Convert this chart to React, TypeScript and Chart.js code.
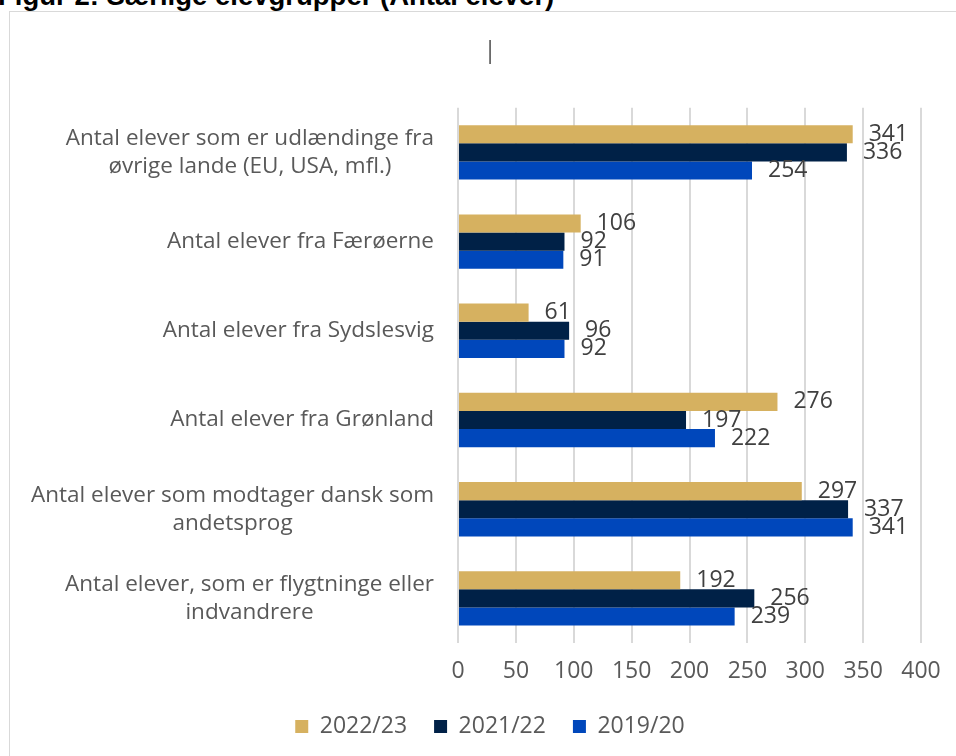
import React, { useEffect, useRef } from "react";
import { Chart, registerables } from "chart.js";

Chart.register(...registerables);

const categories: string[][] = [
  ["Antal elever som er udlændinge fra", "øvrige lande (EU, USA, mfl.)"],
  ["Antal elever fra Færøerne"],
  ["Antal elever fra Sydslesvig"],
  ["Antal elever fra Grønland"],
  ["Antal elever som modtager dansk som", "andetsprog"],
  ["Antal elever, som er flygtninge eller", "indvandrere"],
];
const seriesNames = ["2022/23", "2021/22", "2019/20"];
const values2022 = [341, 106, 61, 276, 297, 192];
const values2021 = [336, 92, 96, 197, 337, 256];
const values2019 = [254, 91, 92, 222, 341, 239];
const xMin = 0;
const xMax = 400;
const xStep = 50;
const figureTitle = "Figur 2: Særlige elevgrupper (Antal elever)";
const chartTitle = "|";

const colors = ["#D6B160", "#002147", "#0047BB"];
const FONT = '"Open Sans", sans-serif';

const yLabelPlugin = {
  id: "yLabelsCentered",
  afterDraw(chart: any) {
    const { ctx, chartArea, scales } = chart;
    const y = scales.y;
    ctx.save();
    ctx.font = `22.5px ${FONT}`;
    ctx.fillStyle = "#595959";
    ctx.textBaseline = "middle";
    ctx.textAlign = "center";
    const right = chartArea.left - 24;
    const lh = 28;
    (chart.data.labels as any[]).forEach((lab, i) => {
      const lines: string[] = Array.isArray(lab) ? lab : [lab];
      const w = Math.max(...lines.map((l) => ctx.measureText(l).width));
      const cx = right - w / 2;
      const cy = y.getPixelForValue(i);
      lines.forEach((l, j) => {
        ctx.fillText(l, cx, cy + (j - (lines.length - 1) / 2) * lh);
      });
    });
    ctx.restore();
  },
};

const valueLabelPlugin = {
  id: "valueLabels",
  afterDatasetsDraw(chart: any) {
    const { ctx } = chart;
    ctx.save();
    ctx.font = `23px ${FONT}`;
    ctx.fillStyle = "#404040";
    ctx.textBaseline = "middle";
    ctx.textAlign = "left";
    chart.data.datasets.forEach((ds: any, di: number) => {
      const meta = chart.getDatasetMeta(di);
      meta.data.forEach((el: any, i: number) => {
        ctx.fillText(String(ds.data[i]), el.x + 16, el.y);
      });
    });
    ctx.restore();
  },
};

export default function App() {
  const canvasRef = useRef<HTMLCanvasElement | null>(null);

  useEffect(() => {
    if (!canvasRef.current) return;
    Chart.defaults.font.family = FONT;
    const seriesValues = [values2022, values2021, values2019];
    const chart = new Chart(canvasRef.current, {
      type: "bar",
      data: {
        labels: categories,
        datasets: seriesNames.map((name, i) => ({
          label: name,
          data: seriesValues[i],
          backgroundColor: colors[i],
          borderWidth: 0,
          barPercentage: 1,
          categoryPercentage: 0.61,
        })),
      },
      options: {
        indexAxis: "y",
        animation: false,
        responsive: false,
        maintainAspectRatio: false,
        layout: { padding: { left: 49, right: 49, top: 0, bottom: 24 } },
        plugins: {
          title: {
            display: true,
            text: chartTitle,
            color: "#595959",
            font: { size: 24, weight: "normal" as any, family: FONT },
            padding: { top: 25, bottom: 42 },
          },
          legend: {
            display: true,
            position: "bottom",
            labels: {
              color: "#595959",
              font: { size: 23, family: FONT },
              boxWidth: 13,
              boxHeight: 13,
              padding: 27,
            },
          },
          tooltip: { enabled: false },
        },
        scales: {
          x: {
            type: "linear",
            min: xMin,
            max: xMax,
            ticks: {
              stepSize: xStep,
              color: "#595959",
              font: { size: 23, family: FONT },
              padding: 15,
            },
            grid: {
              color: "#D9D9D9",
              lineWidth: 2,
              drawTicks: false,
            },
            border: { display: false },
            afterFit(scale: any) {
              scale.height = 45;
            },
          },
          y: {
            type: "category",
            ticks: { display: false },
            grid: { display: false },
            border: { display: false },
            afterFit(scale: any) {
              scale.width = 399;
            },
          },
        },
      },
      plugins: [yLabelPlugin, valueLabelPlugin],
    });
    return () => chart.destroy();
  }, []);

  return (
    <div
      style={{
        position: "absolute",
        left: 0,
        top: 0,
        width: 956,
        height: 756,
        overflow: "hidden",
        background: "#fff",
      }}
    >
      <div
        style={{
          position: "absolute",
          left: -2,
          top: -18,
          whiteSpace: "nowrap",
          fontFamily: '"Liberation Sans", Arial, sans-serif',
          fontWeight: 700,
          fontSize: 27.5,
          lineHeight: "27.5px",
          color: "#000",
        }}
      >
        {figureTitle}
      </div>
      <div
        style={{
          position: "absolute",
          left: 9,
          top: 11,
          width: 960,
          height: 760,
          border: "1px solid #D9D9D9",
          background: "#fff",
        }}
      >
        <canvas ref={canvasRef} width={960} height={760} style={{ display: "block" }} />
      </div>
    </div>
  );
}
